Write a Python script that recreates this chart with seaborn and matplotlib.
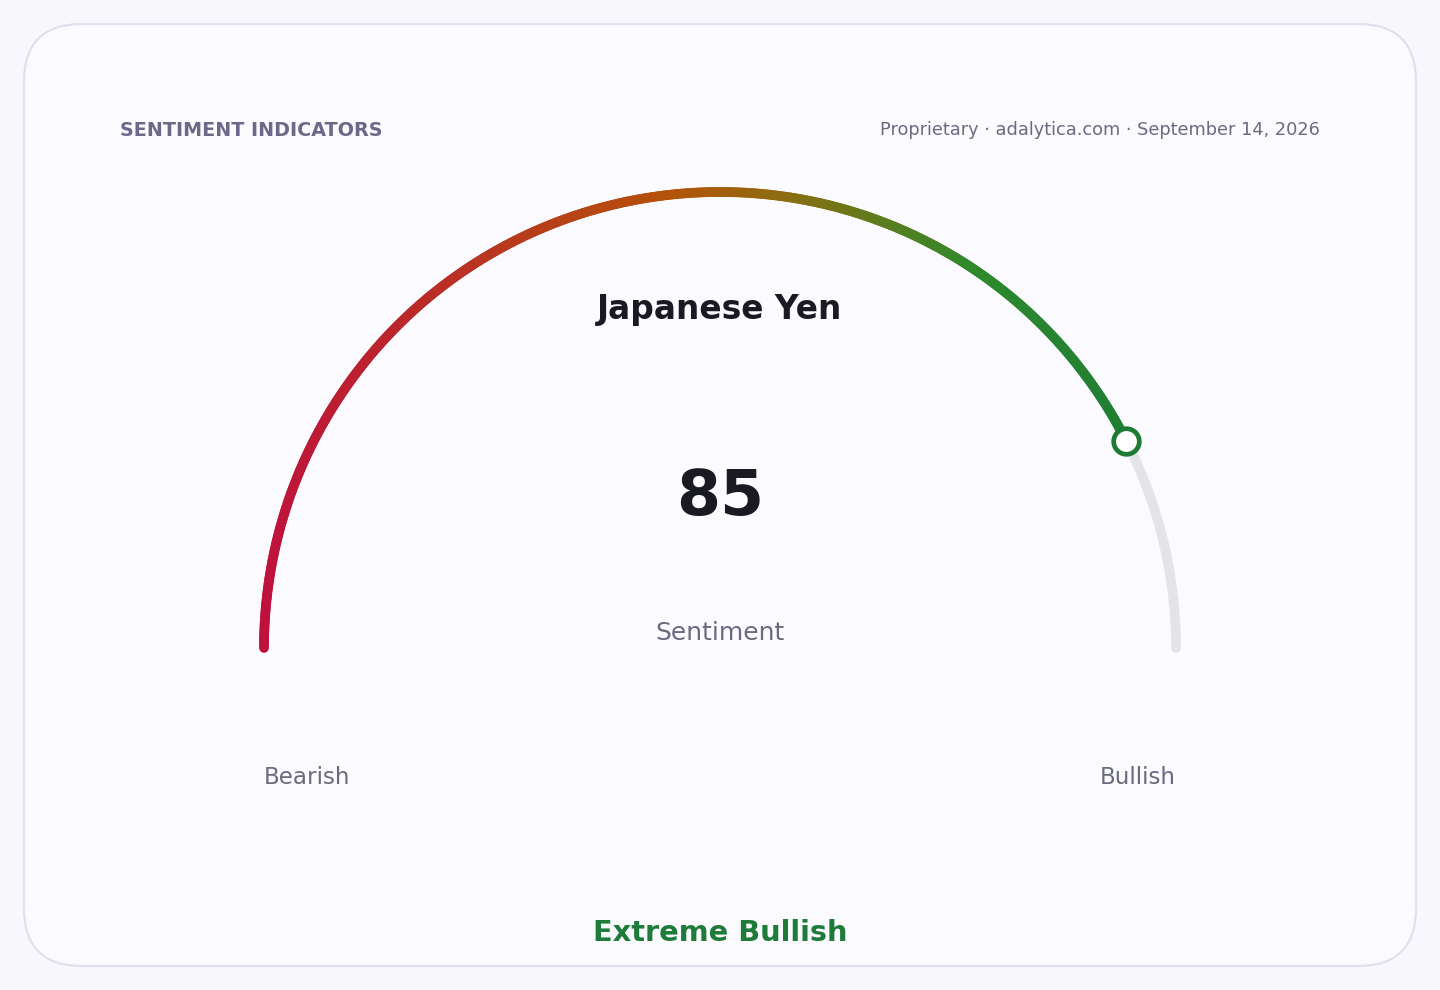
import numpy as np
import pandas as pd
import matplotlib
matplotlib.use("Agg")
import matplotlib.pyplot as plt
import seaborn as sns
from matplotlib.collections import LineCollection
from matplotlib.colors import LinearSegmentedColormap
from matplotlib.patches import FancyBboxPatch

# gauge data
title = "Japanese Yen"
value = 85
value_min = 0
value_max = 100
metric_label = "Sentiment"
low_label = "Bearish"
high_label = "Bullish"
zone_label = "Extreme Bullish"
header_left = "SENTIMENT INDICATORS"
header_right = "Proprietary \u00b7 adalytica.com \u00b7 September 14, 2026"

grad_stops = [0.0, 0.45, 0.58, 0.78, 1.0]
grad_colors = ["#be123c", "#b45309", "#8a6e10", "#2f8a2c", "#1b7a36"]

sns.set_theme(style="white")
plt.rcParams['font.family'] = ['DejaVu Sans']

W, H = 1440, 990
fig = plt.figure(figsize=(W / 100, H / 100), dpi=100)
fig.patch.set_facecolor("#f8f8fc")
ax = fig.add_axes([0, 0, 1, 1])
ax.set_facecolor("#f8f8fc")

card = FancyBboxPatch((24, 24), 1392, 942, boxstyle="round,pad=0,rounding_size=58",
                      facecolor="#fafaff", edgecolor="#e0e0ee", linewidth=1.6)
ax.add_patch(card)

# gauge geometry
cx, cy, r = 720, 648, 456
frac = (value - value_min) / (value_max - value_min)

def arc_xy(f0, f1, n):
    t = np.linspace(f0, f1, n)
    ang = np.pi * (1 - t)
    return t, cx + r * np.cos(ang), cy - r * np.sin(ang)

# gray track for the rest
_, tx, ty = arc_xy(frac, 1.0, 100)
track = pd.DataFrame({"x": tx, "y": ty})
sns.lineplot(data=track, x="x", y="y", sort=False, ax=ax, color="#e4e4e8",
             linewidth=7, solid_capstyle="round", zorder=2)

# gradient value arc
cmap = LinearSegmentedColormap.from_list("senti", list(zip(grad_stops, grad_colors)))
t, vx, vy = arc_xy(0.0, frac, 400)
pts = np.column_stack([vx, vy]).reshape(-1, 1, 2)
segs = np.concatenate([pts[:-1], pts[1:]], axis=1)
xnorm = ((vx[:-1] + vx[1:]) / 2 - (cx - r)) / (2 * r)
lc = LineCollection(segs, colors=cmap(xnorm), linewidth=7, capstyle="round", zorder=3)
ax.add_collection(lc)

# marker at the value
ang = np.pi * (1 - frac)
mk = pd.DataFrame({"x": [cx + r * np.cos(ang)], "y": [cy - r * np.sin(ang)]})
sns.scatterplot(data=mk, x="x", y="y", ax=ax, s=340, color="white",
                edgecolor="#1e7b34", linewidth=3.4, zorder=5)
ax.set_xlim(0, W)
ax.set_ylim(H, 0)
ax.axis("off")

# texts
ax.text(120, 130, header_left, fontsize=13.8, fontweight="bold", color="#6b6888",
        ha="left", va="center")
ax.text(1320, 130, header_right, fontsize=12.8, color="#6b6b80", ha="right", va="center")
ax.text(720, 310, title, fontsize=23.7, fontweight="bold", color="#1a1a22",
        ha="center", va="center")
ax.text(720, 498, f"{value}", fontsize=45.5, fontweight="bold", color="#1a1a22",
        ha="center", va="center")
ax.text(720, 633, metric_label, fontsize=18, color="#6b6b80", ha="center", va="center")
ax.text(264, 778, low_label, fontsize=16.6, color="#6b6b80", ha="left", va="center")
ax.text(1176, 778, high_label, fontsize=16.6, color="#6b6b80", ha="right", va="center")
ax.text(720, 933, zone_label, fontsize=20.8, fontweight="bold", color="#1e7b3a",
        ha="center", va="center")

fig.savefig("out.png", dpi=100, facecolor=fig.get_facecolor())
